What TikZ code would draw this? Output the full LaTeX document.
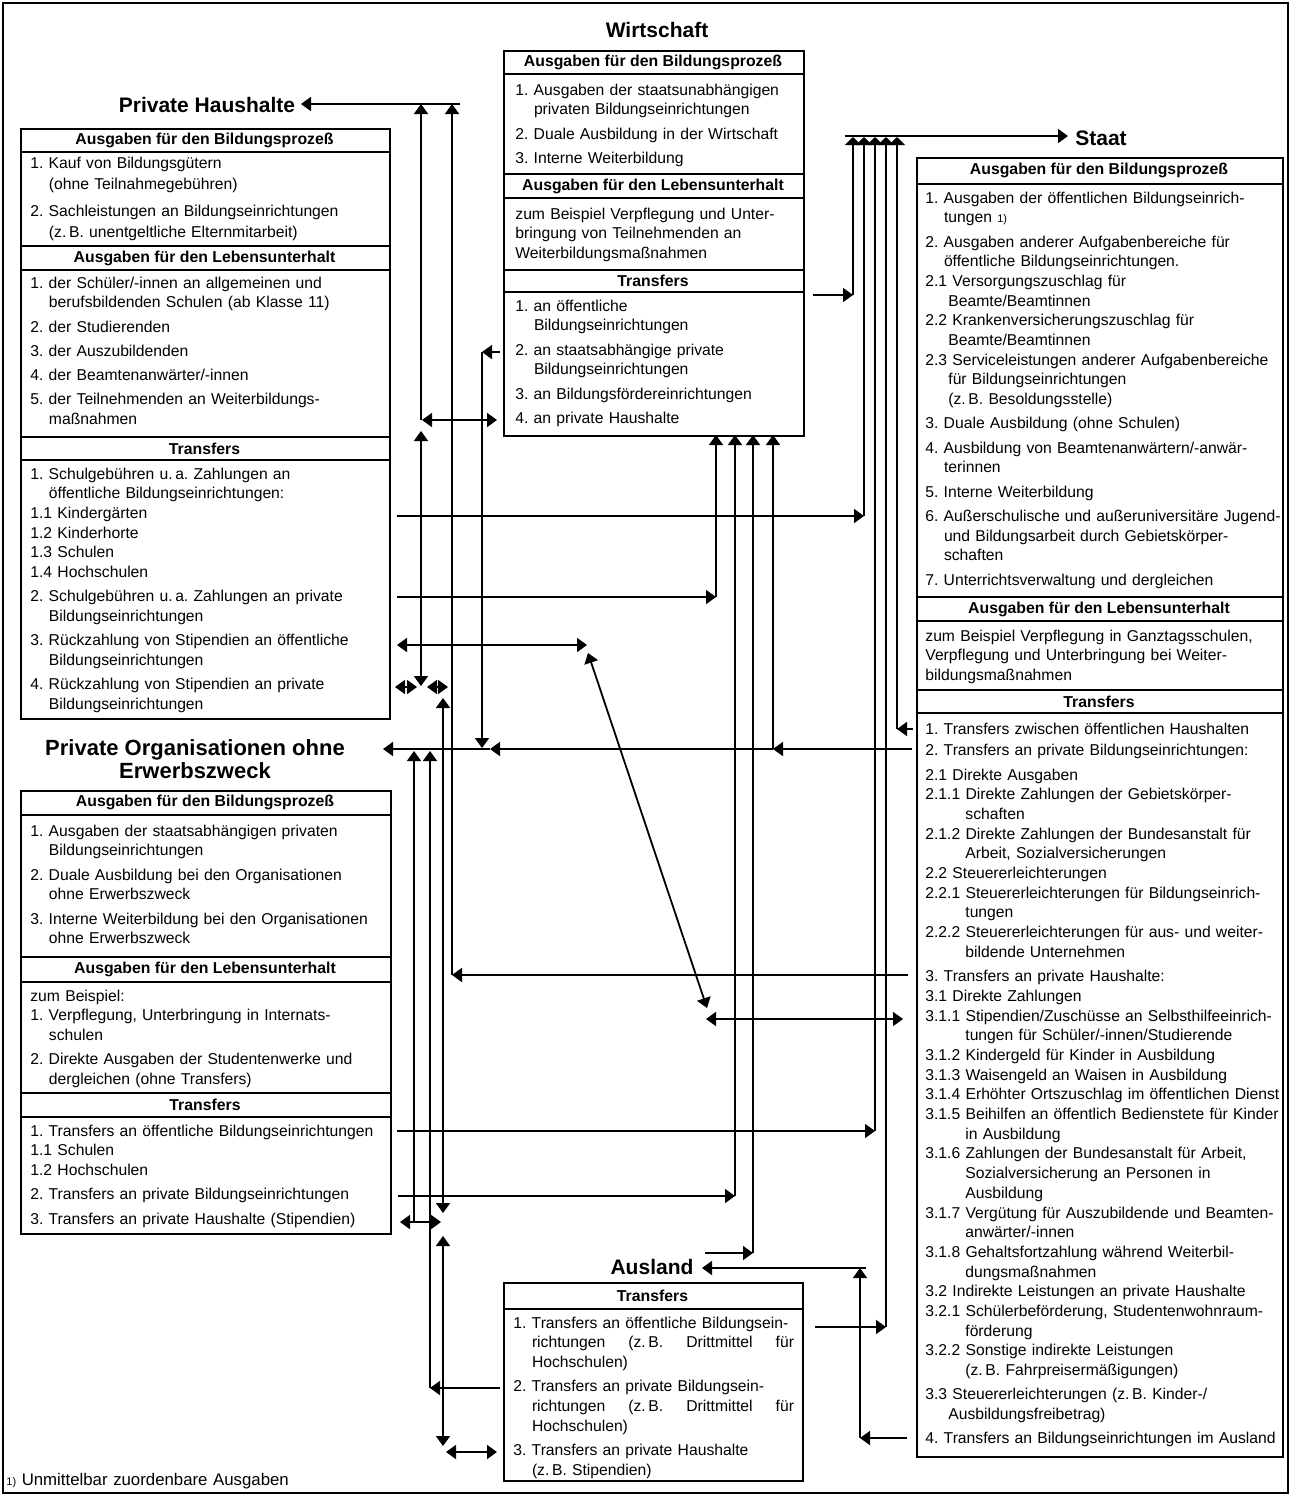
\documentclass[tikz,border=0pt]{standalone}
\usepackage{fontspec}
\setmainfont{Liberation Sans}
\usetikzlibrary{arrows.meta}
\newcommand{\indA}{\hspace*{9.3pt}}
\newcommand{\indB}{\hspace*{11.5pt}}
\newcommand{\indC}{\hspace*{20pt}}
\newcommand{\fnm}{{\fontsize{5.5}{6}\selectfont 1)}}
\newcommand{\gp}{\\[2.3pt]}
\newcommand{\jline}{\makebox[131pt][l]{richtungen\hfill(z.\,B.\hfill Drittmittel\hfill für}}
\begin{document}
\frenchspacing
\begin{tikzpicture}[x=0.5pt,y=-0.5pt,
  boxn/.style={draw, line width=0.75pt, inner sep=0pt, anchor=north west},
  sep/.style={line width=0.75pt},
  hd/.style={font=\fontsize{7.9}{10}\selectfont\bfseries, inner sep=0pt},
  txt/.style={font=\fontsize{7.85}{9.85}\selectfont\frenchspacing, anchor=base west, inner sep=0pt, text width=200pt, align=left},
  ttl/.style={font=\fontsize{10.5}{11.5}\selectfont\bfseries, inner sep=0pt},
  ln/.style={line width=0.9pt},
  arr/.style={ln, -{Triangle[width=7pt,length=5pt]}},
  busarr/.style={ln, -{Triangle[width=8pt,length=4pt]}},
  darr/.style={ln, {Triangle[width=7pt,length=5pt]}-{Triangle[width=7pt,length=5pt]}},
]
\useasboundingbox (0,0) rectangle (1291,1496);
\draw[line width=0.6pt] (3,3) rectangle (1288,1493);

% ---------- boxes ----------
\node[boxn, minimum width=184.5pt, minimum height=295pt] (ph) at (20,128) {};
\node[boxn, minimum width=150pt, minimum height=192.5pt] (wi) at (503,50) {};
\node[boxn, minimum width=183pt, minimum height=649.5pt] (st) at (916,157) {};
\node[boxn, minimum width=185pt, minimum height=221.5pt] (po) at (20,790) {};
\node[boxn, minimum width=149.5pt, minimum height=99pt] (au) at (503,1282) {};

% separators
\foreach \yy in {152,246,270,437,460} \draw[sep] (20,\yy) -- (389,\yy);
\foreach \yy in {74,174,198,270,292} \draw[sep] (503,\yy) -- (803,\yy);
\foreach \yy in {184,597,621,690,713} \draw[sep] (916,\yy) -- (1282,\yy);
\foreach \yy in {815,957,982,1093,1117} \draw[sep] (20,\yy) -- (390,\yy);
\draw[sep] (503,1309) -- (802,1309);

% ---------- titles ----------
\node[ttl] (tW) at (657,30) {Wirtschaft};
\node[ttl] (tPH) at (207,105) {Private Haushalte};
\node[ttl] (tSt) at (1101,138) {Staat};
\node[ttl, font=\fontsize{11}{11.5}\selectfont\bfseries, align=center] (tPO) at (195,759) {Private Organisationen ohne\\Erwerbszweck};
\node[ttl] (tAu) at (652,1267) {Ausland};

% ---------- headers ----------
\node[hd] (phh1) at (204.5,140) {Ausgaben für den Bildungsprozeß};
\node[hd] (phh2) at (204.5,258) {Ausgaben für den Lebensunterhalt};
\node[hd] (phh3) at (204.5,449) {Transfers};
\node[hd] (wih1) at (653,62) {Ausgaben für den Bildungsprozeß};
\node[hd] (wih2) at (653,186) {Ausgaben für den Lebensunterhalt};
\node[hd] (wih3) at (653,281) {Transfers};
\node[hd] (sth1) at (1099,170.5) {Ausgaben für den Bildungsprozeß};
\node[hd] (sth2) at (1099,609) {Ausgaben für den Lebensunterhalt};
\node[hd] (sth3) at (1099,701.5) {Transfers};
\node[hd] (poh1) at (205,802.5) {Ausgaben für den Bildungsprozeß};
\node[hd] (poh2) at (205,969.5) {Ausgaben für den Lebensunterhalt};
\node[hd] (poh3) at (205,1105) {Transfers};
\node[hd] (auh1) at (652.5,1295.5) {Transfers};

% ---------- texts: Private Haushalte ----------
\node[txt] (pht1) at (30,168) {1. Kauf von Bildungsgütern\\[1pt]
\indA (ohne Teilnahmegebühren)\\[3.3pt]
2. Sachleistungen an Bildungseinrichtungen\\[1pt]
\indA (z.\,B. unentgeltliche Elternmitarbeit)};
\node[txt] (pht2) at (30,288) {1. der Schüler/-innen an allgemeinen und\\
\indA berufsbildenden Schulen (ab Klasse 11)\gp
2. der Studierenden\gp
3. der Auszubildenden\gp
4. der Beamtenanwärter/-innen\gp
5. der Teilnehmenden an Weiterbildungs-\\
\indA maßnahmen};
\node[txt] (pht3) at (30,479) {1. Schulgebühren u.\,a. Zahlungen an\\
\indA öffentliche Bildungseinrichtungen:\\
1.1 Kindergärten\\
1.2 Kinderhorte\\
1.3 Schulen\\
1.4 Hochschulen\gp
2. Schulgebühren u.\,a. Zahlungen an private\\
\indA Bildungseinrichtungen\gp
3. Rückzahlung von Stipendien an öffentliche\\
\indA Bildungseinrichtungen\gp
4. Rückzahlung von Stipendien an private\\
\indA Bildungseinrichtungen};

% ---------- texts: Wirtschaft ----------
\node[txt] (wit1) at (515,95) {1. Ausgaben der staatsunabhängigen\\
\indA privaten Bildungseinrichtungen\gp
2. Duale Ausbildung in der Wirtschaft\gp
3. Interne Weiterbildung};
\node[txt] (wit2) at (515,219) {zum Beispiel Verpflegung und Unter-\\
bringung von Teilnehmenden an\\
Weiterbildungsmaßnahmen};
\node[txt] (wit3) at (515,311) {1. an öffentliche\\
\indA Bildungseinrichtungen\gp
2. an staatsabhängige private\\
\indA Bildungseinrichtungen\gp
3. an Bildungsfördereinrichtungen\gp
4. an private Haushalte};

% ---------- texts: Staat ----------
\node[txt] (stt1) at (925,203) {1. Ausgaben der öffentlichen Bildungseinrich-\\
\indA tungen \fnm\gp
2. Ausgaben anderer Aufgabenbereiche für\\
\indA öffentliche Bildungseinrichtungen.\\
2.1 Versorgungszuschlag für\\
\indB Beamte/Beamtinnen\\
2.2 Krankenversicherungszuschlag für\\
\indB Beamte/Beamtinnen\\
2.3 Serviceleistungen anderer Aufgabenbereiche\\
\indB für Bildungseinrichtungen\\
\indB (z.\,B. Besoldungsstelle)\gp
3. Duale Ausbildung (ohne Schulen)\gp
4. Ausbildung von Beamtenanwärtern/-anwär-\\
\indA terinnen\gp
5. Interne Weiterbildung\gp
6. Außerschulische und außeruniversitäre Jugend-\\
\indA und Bildungsarbeit durch Gebietskörper-\\
\indA schaften\gp
7. Unterrichtsverwaltung und dergleichen};
\node[txt] (stt2) at (925,641) {zum Beispiel Verpflegung in Ganztagsschulen,\\
Verpflegung und Unterbringung bei Weiter-\\
bildungsmaßnahmen};
\node[txt] (stt3) at (925,734) {1. Transfers zwischen öffentlichen Haushalten\\[1pt]
2. Transfers an private Bildungseinrichtungen:\gp
2.1 Direkte Ausgaben\\
2.1.1 Direkte Zahlungen der Gebietskörper-\\
\indC schaften\\
2.1.2 Direkte Zahlungen der Bundesanstalt für\\
\indC Arbeit, Sozialversicherungen\\
2.2 Steuererleichterungen\\
2.2.1 Steuererleichterungen für Bildungseinrich-\\
\indC tungen\\
2.2.2 Steuererleichterungen für aus- und weiter-\\
\indC bildende Unternehmen\gp
3. Transfers an private Haushalte:\\
3.1 Direkte Zahlungen\\
3.1.1 Stipendien/Zuschüsse an Selbsthilfeeinrich-\\
\indC tungen für Schüler/-innen/Studierende\\
3.1.2 Kindergeld für Kinder in Ausbildung\\
3.1.3 Waisengeld an Waisen in Ausbildung\\
3.1.4 Erhöhter Ortszuschlag im öffentlichen Dienst\\
3.1.5 Beihilfen an öffentlich Bedienstete für Kinder\\
\indC in Ausbildung\\
3.1.6 Zahlungen der Bundesanstalt für Arbeit,\\
\indC Sozialversicherung an Personen in\\
\indC Ausbildung\\
3.1.7 Vergütung für Auszubildende und Beamten-\\
\indC anwärter/-innen\\
3.1.8 Gehaltsfortzahlung während Weiterbil-\\
\indC dungsmaßnahmen\\
3.2 Indirekte Leistungen an private Haushalte\\
3.2.1 Schülerbeförderung, Studentenwohnraum-\\
\indC förderung\\
3.2.2 Sonstige indirekte Leistungen\\
\indC (z.\,B. Fahrpreisermäßigungen)\gp
3.3 Steuererleichterungen (z.\,B. Kinder-/\\
\indB Ausbildungsfreibetrag)\gp
4. Transfers an Bildungseinrichtungen im Ausland};

% ---------- texts: Private Organisationen ----------
\node[txt] (pot1) at (30,836) {1. Ausgaben der staatsabhängigen privaten\\
\indA Bildungseinrichtungen\gp
2. Duale Ausbildung bei den Organisationen\\
\indA ohne Erwerbszweck\gp
3. Interne Weiterbildung bei den Organisationen\\
\indA ohne Erwerbszweck};
\node[txt] (pot2) at (30,1001) {zum Beispiel:\\
1. Verpflegung, Unterbringung in Internats-\\
\indA schulen\gp
2. Direkte Ausgaben der Studentenwerke und\\
\indA dergleichen (ohne Transfers)};
\node[txt] (pot3) at (30,1136) {1. Transfers an öffentliche Bildungseinrichtungen\\
1.1 Schulen\\
1.2 Hochschulen\gp
2. Transfers an private Bildungseinrichtungen\gp
3. Transfers an private Haushalte (Stipendien)};

% ---------- texts: Ausland ----------
\node[txt] (aut1) at (513,1328) {1. Transfers an öffentliche Bildungsein-\\
\indA\jline\\
\indA Hochschulen)\gp
2. Transfers an private Bildungsein-\\
\indA\jline\\
\indA Hochschulen)\gp
3. Transfers an private Haushalte\\
\indA (z.\,B. Stipendien)};

% footnote
\node[txt, font=\fontsize{8.4}{10}\selectfont] (fn) at (6,1485) {\fnm\ Unmittelbar zuordenbare Ausgaben};

% ---------- connector points ----------
\coordinate (phTip) at (301,104);
\coordinate (phEnd) at (460,104);
\coordinate (aTop) at (421,104);
\coordinate (bTop) at (452,104);
\coordinate (aW4) at (421,420);
\coordinate (w4L) at (422,420);
\coordinate (w4R) at (497,420);
\coordinate (aUp) at (421,431);
\coordinate (aDn) at (421,686);
\coordinate (bCor) at (452,975);
\coordinate (s3Start) at (908,975);
\coordinate (c1L) at (395,687);
\coordinate (c1R) at (417,687);
\coordinate (c2L) at (427,687);
\coordinate (c2R) at (448,687);
\coordinate (dUp) at (443,698);
\coordinate (dDn) at (443,1213);
\coordinate (r3L) at (397,645);
\coordinate (r3R) at (587,645);
\coordinate (diagA) at (588,653);
\coordinate (diagB) at (707,1008);
\coordinate (stipL) at (706,1019);
\coordinate (stipR) at (903,1019);

\coordinate (stBusL) at (845,136);
\coordinate (stTip) at (1068,136);
\coordinate (e1Top) at (853,137);
\coordinate (e1Cor) at (853,295);
\coordinate (w1Start) at (813,295);
\coordinate (e2Top) at (864,137);
\coordinate (e2Cor) at (864,516);
\coordinate (ph11Start) at (397,516);
\coordinate (e3Top) at (875,137);
\coordinate (e3Cor) at (875,1131);
\coordinate (po1Start) at (397,1131);
\coordinate (e4Top) at (886,137);
\coordinate (e4Cor) at (886,1327);
\coordinate (au1Start) at (815,1327);
\coordinate (e5Top) at (897,137);
\coordinate (e5Cor) at (897,729);
\coordinate (st1Start) at (913,729);

\coordinate (f1Top) at (716,435);
\coordinate (f1Cor) at (716,597);
\coordinate (ph2Start) at (397,597);
\coordinate (f2Top) at (735,435);
\coordinate (f2Cor) at (735,1196);
\coordinate (po2Start) at (398,1196);
\coordinate (f3Top) at (753,435);
\coordinate (f3Cor) at (753,1253);
\coordinate (auWStart) at (705,1253);
\coordinate (f4Top) at (773,435);
\coordinate (f4Cor) at (773,749);
\coordinate (st2Start) at (912,749);

\coordinate (poTip) at (383,749);
\coordinate (poMid) at (490,749);
\coordinate (gCor) at (482,352);
\coordinate (w2Start) at (500,352);
\coordinate (gBot) at (482,748);
\coordinate (hTop) at (414,751);
\coordinate (hBot) at (414,1222);
\coordinate (iTop) at (430,751);
\coordinate (iCor) at (430,1388);
\coordinate (au2Start) at (500,1388);
\coordinate (po3L) at (400,1222);
\coordinate (po3R) at (441,1222);
\coordinate (jTop) at (443,1236);
\coordinate (jBot) at (443,1446);
\coordinate (au3L) at (446,1452);
\coordinate (au3R) at (497,1452);

\coordinate (auTip) at (702,1268);
\coordinate (kTop) at (860,1268);
\coordinate (kEnd) at (866,1268);
\coordinate (kCor) at (860,1438);
\coordinate (st4Start) at (907,1438);

% ---------- connectors ----------
\draw[arr] (phEnd) -- (phTip);
\draw[arr] (aW4) -- (aTop);
\draw[arr] (bCor) -- (bTop);
\draw[arr] (s3Start) -- (bCor);
\draw[darr] (w4R) -- (w4L);
\draw[darr] (aUp) -- (aDn);
\draw[darr] (c1L) -- (c1R);
\draw[darr] (c2L) -- (c2R);
\draw[darr] (dUp) -- (dDn);
\draw[darr] (r3L) -- (r3R);
\draw[darr] (diagA) -- (diagB);
\draw[darr] (stipL) -- (stipR);

\draw[arr] (stBusL) -- (stTip);
\draw[arr] (w1Start) -- (e1Cor);
\draw[busarr] (e1Cor) -- (e1Top);
\draw[arr] (ph11Start) -- (e2Cor);
\draw[busarr] (e2Cor) -- (e2Top);
\draw[arr] (po1Start) -- (e3Cor);
\draw[busarr] (e3Cor) -- (e3Top);
\draw[arr] (au1Start) -- (e4Cor);
\draw[busarr] (e4Cor) -- (e4Top);
\draw[arr] (st1Start) -- (e5Cor);
\draw[busarr] (e5Cor) -- (e5Top);

\draw[arr] (ph2Start) -- (f1Cor);
\draw[arr] (f1Cor) -- (f1Top);
\draw[arr] (po2Start) -- (f2Cor);
\draw[arr] (f2Cor) -- (f2Top);
\draw[arr] (auWStart) -- (f3Cor);
\draw[arr] (f3Cor) -- (f3Top);
\draw[arr] (st2Start) -- (f4Cor);
\draw[arr] (f4Cor) -- (f4Top);
\draw[arr] (f4Cor) -- (poMid);
\draw[arr] (poMid) -- (poTip);

\draw[arr] (w2Start) -- (gCor);
\draw[arr] (gCor) -- (gBot);
\draw[arr] (hBot) -- (hTop);
\draw[arr] (au2Start) -- (iCor);
\draw[arr] (iCor) -- (iTop);
\draw[darr] (po3L) -- (po3R);
\draw[darr] (jTop) -- (jBot);
\draw[darr] (au3L) -- (au3R);

\draw[arr] (st4Start) -- (kCor);
\draw[arr] (kCor) -- (kTop);
\draw[arr] (kEnd) -- (auTip);
\end{tikzpicture}
\end{document}
